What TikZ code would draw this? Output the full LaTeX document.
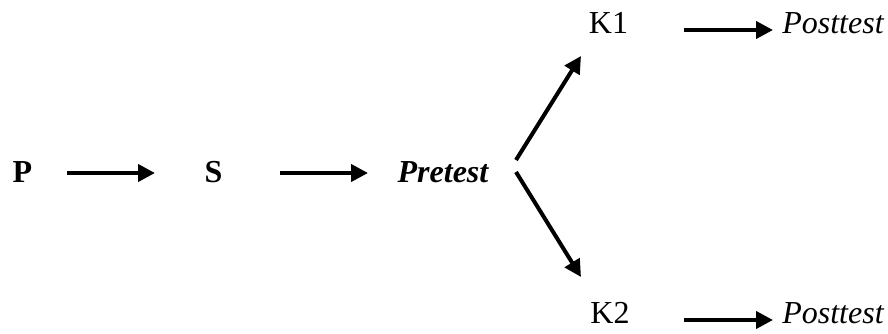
\documentclass[tikz,border=0pt]{standalone}
\usepackage{fontspec}
\setmainfont{Liberation Serif}
\usetikzlibrary{arrows.meta}
\begin{document}
\begin{tikzpicture}[x=1pt,y=-1pt,
  lbl/.style={inner sep=0pt, anchor=base, font=\fontsize{32pt}{38pt}\selectfont},
  arrow/.style={line width=4pt, -{Triangle[length=17pt,width=17pt]}}]
  \useasboundingbox (0,0) rectangle (888,334);
  % stages
  \node[lbl, font=\fontsize{32pt}{38pt}\selectfont\bfseries] (P) at (22.5,182) {P};
  \node[lbl, font=\fontsize{32pt}{38pt}\selectfont\bfseries] (S) at (213.5,182) {S};
  \node[lbl, font=\fontsize{32pt}{38pt}\selectfont\bfseries\itshape] (pre) at (443,182) {Pretest};
  \node[lbl] (K1) at (608.5,34) {K1};
  \node[lbl, font=\fontsize{32pt}{38pt}\selectfont\itshape] (post1) at (833,34) {Posttest};
  \node[lbl] (K2) at (610,323) {K2};
  \node[lbl, font=\fontsize{32pt}{38pt}\selectfont\itshape] (post2) at (833,323) {Posttest};
  % connector end points beside the labels
  \coordinate (pS) at (67,173);
  \coordinate (pE) at (155,173);
  \coordinate (sS) at (280,173);
  \coordinate (sE) at (368,173);
  \coordinate (uS) at (516,160);
  \coordinate (uE) at (581,56);
  \coordinate (dS) at (516,172);
  \coordinate (dE) at (581,277);
  \coordinate (kS) at (684,30);
  \coordinate (kE) at (773,30);
  \coordinate (mS) at (684,320);
  \coordinate (mE) at (773,320);
  % connectors
  \draw[arrow] (pS) -- (pE);
  \draw[arrow] (sS) -- (sE);
  \draw[arrow] (uS) -- (uE);
  \draw[arrow] (dS) -- (dE);
  \draw[arrow] (kS) -- (kE);
  \draw[arrow] (mS) -- (mE);
\end{tikzpicture}
\end{document}
